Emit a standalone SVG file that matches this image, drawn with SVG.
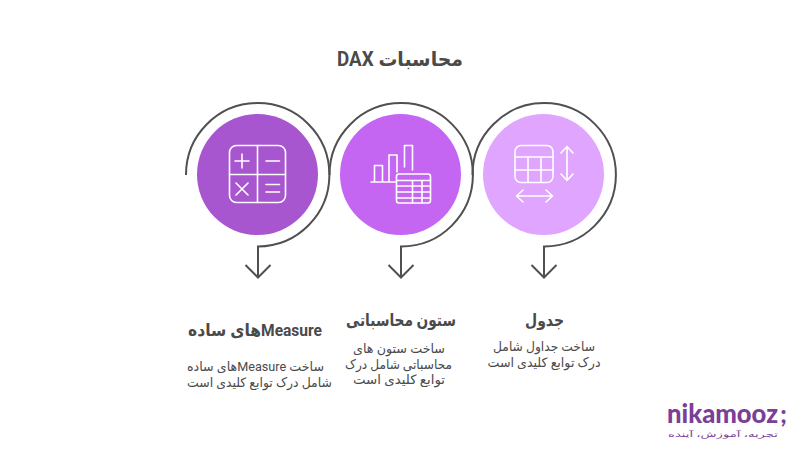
<svg xmlns="http://www.w3.org/2000/svg" width="800" height="450" viewBox="0 0 800 450">
<style>
text{font-family:"Roboto","DejaVu Sans","Liberation Sans",sans-serif;fill:#4a4a4a;text-anchor:middle;direction:rtl}
.t{font-size:20px;font-weight:700}
.h{font-size:17px;font-weight:700}
.b{font-size:13px}
.logo{fill:#7b3f98;direction:ltr;font-family:"Lato","Noto Sans",sans-serif;font-weight:900}
.ring{fill:none;stroke:#505050;stroke-width:2}
.ic{fill:none;stroke:#fff;stroke-width:1.6;stroke-linecap:round;stroke-linejoin:round}
</style>
<rect width="800" height="450" fill="#fff"/>
<text class="t" x="400" y="66" textLength="126" lengthAdjust="spacingAndGlyphs">محاسبات DAX</text>
<g id="connectors">
<path class="ring" d="M186 175A71.700 71.700 0 1 1 258 246.500V277M245.500 265L258 277.500L270.500 265"/>
<path class="ring" d="M329.500 175A71.700 71.700 0 1 1 401 246.500V277M388.500 265L401 277.500L413.500 265"/>
<path class="ring" d="M472.500 175A71.700 71.700 0 1 1 544 246.500V277M531.500 265L544 277.500L556.500 265"/>
</g>
<g id="node-measure">
<circle cx="257.500" cy="174.500" r="60.500" fill="#a855d0"/>
<g class="ic"><rect x="229.500" y="145.500" width="56" height="57" rx="7"/><path d="M257.500 145.500V202.500M229.500 174.500H285.500M235 161H249M242 154V168M266 161H279.500M236 183L248 195M248 183L236 195M266 184.500H279.500M266 192H279.500"/></g>
<text class="h" x="255" y="336" textLength="134" lengthAdjust="spacingAndGlyphs">Measureهای ساده</text>
<text class="b" x="255.500" y="371" textLength="137" lengthAdjust="spacingAndGlyphs">ساخت Measureهای ساده</text>
<text class="b" x="259.500" y="386.500" textLength="145" lengthAdjust="spacingAndGlyphs">شامل درک توابع کلیدی است</text>
</g>
<g id="node-column">
<circle cx="400.500" cy="174.500" r="60.500" fill="#c466f2"/>
<g class="ic"><path d="M371 182H396M374.500 182V165.500H382.500V182M389 182V155H397V172M404.500 167V145.500H412.500V170"/><rect x="396.500" y="174" width="34" height="29" rx="2.500"/><path d="M396.500 180.500H430.500M396.500 186H430.500M396.500 192H430.500M396.500 198H430.500M412.500 180.500V203M422 180.500V203"/></g>
<text class="h" x="401" y="326" textLength="110" lengthAdjust="spacingAndGlyphs">ستون محاسباتی</text>
<text class="b" x="399" y="353" textLength="92" lengthAdjust="spacingAndGlyphs">ساخت ستون های</text>
<text class="b" x="398.500" y="368.500" textLength="107" lengthAdjust="spacingAndGlyphs">محاسباتی شامل درک</text>
<text class="b" x="399" y="384" textLength="92" lengthAdjust="spacingAndGlyphs">توابع کلیدی است</text>
</g>
<g id="node-table">
<circle cx="543.500" cy="174.500" r="60.500" fill="#e0a5ff"/>
<g class="ic"><rect x="515" y="145.500" width="38" height="37" rx="6"/><path d="M515 157H553M515 170H553M528 157V182.500M541 157V182.500M567 147V180M561 153L567 146.500L573 153M561 174L567 180.500L573 174M517 196H552M523 190L516.500 196L523 202M546 190L552.500 196L546 202"/></g>
<text class="h" x="544.500" y="326" textLength="39" lengthAdjust="spacingAndGlyphs">جدول</text>
<text class="b" x="544" y="351" textLength="102" lengthAdjust="spacingAndGlyphs">ساخت جداول شامل</text>
<text class="b" x="544" y="366.500" textLength="113" lengthAdjust="spacingAndGlyphs">درک توابع کلیدی است</text>
</g>
<g id="logo">
<text class="logo" x="722.500" y="423" style="font-size:26px" textLength="111" lengthAdjust="spacingAndGlyphs">nikamooz</text>
<text class="logo" x="783.500" y="423" style="font-size:24px">;</text>
<text x="723" y="437" style="font-size:8px;fill:#7b3f98" textLength="110" lengthAdjust="spacingAndGlyphs">تجربه، آموزش، آینده</text>
</g>
</svg>
